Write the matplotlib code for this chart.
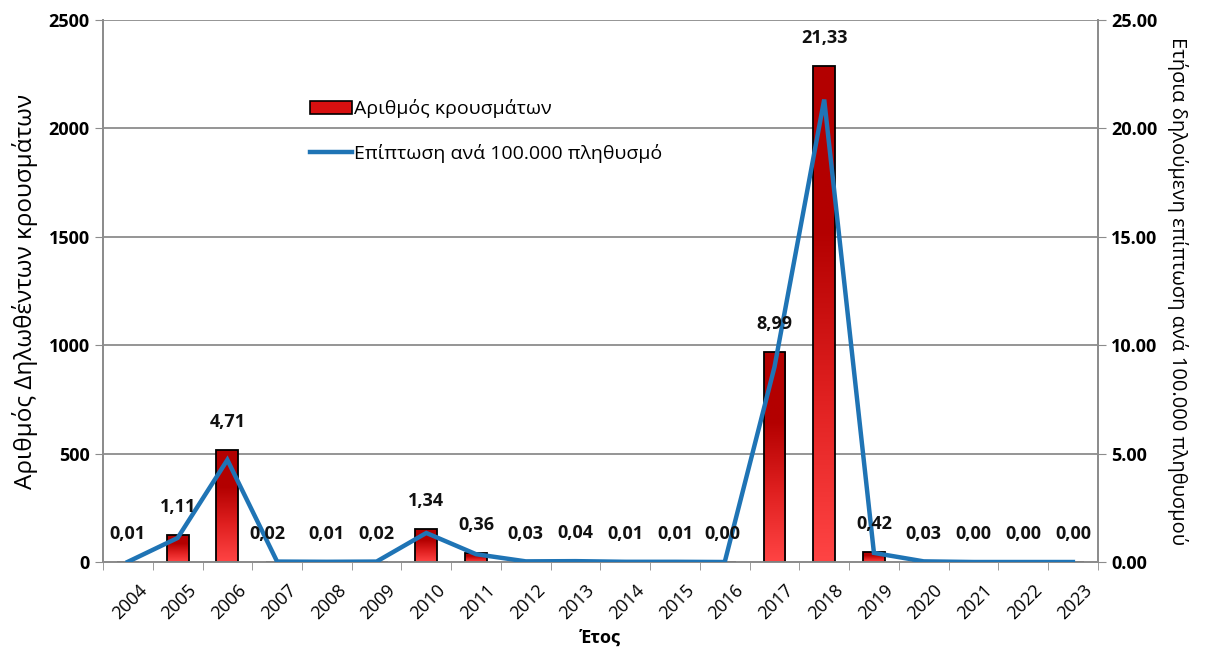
import numpy as np
import matplotlib.pyplot as plt
from matplotlib.colors import LinearSegmentedColormap
from matplotlib.lines import Line2D
from matplotlib.patches import Patch

plt.rcParams['font.family'] = ['Open Sans', 'DejaVu Sans']

# Δεδομένα
years = ['2004', '2005', '2006', '2007', '2008', '2009', '2010', '2011', '2012', '2013',
         '2014', '2015', '2016', '2017', '2018', '2019', '2020', '2021', '2022', '2023']
cases = [1, 125, 517, 2, 1, 2, 152, 41, 3, 4, 1, 1, 0, 969, 2288, 46, 3, 0, 0, 0]
incidence = [0.01, 1.11, 4.71, 0.02, 0.01, 0.02, 1.34, 0.36, 0.03, 0.04,
             0.01, 0.01, 0.00, 8.99, 21.33, 0.42, 0.03, 0.00, 0.00, 0.00]
label_x_shift = [0, 0, 0, -0.2, 0, 0, 0, 0, 0, 0, 0, 0, -0.05, 0, 0, 0, 0, 0, 0, 0]

grey = '#8c8c8c'
blue = '#1f74b5'
red_cmap = LinearSegmentedColormap.from_list('redgrad', ['#ff4444', '#e02020', '#b30000', '#b30000'])

fig = plt.figure(figsize=(12.05, 6.51), dpi=100)
ax = fig.add_axes([0.0855, 0.1367, 0.8255, 0.8326])
ax2 = ax.twinx()

x = np.arange(len(years))
bars = ax.bar(x, cases, width=0.44, color='none', edgecolor='black', linewidth=1.3, zorder=3)

# διαβάθμιση χρώματος στις μπάρες
grad = np.linspace(0, 1, 256).reshape(-1, 1)
for b in bars:
    if b.get_height() <= 0:
        continue
    x0, w, h = b.get_x(), b.get_width(), b.get_height()
    im = ax.imshow(grad, cmap=red_cmap, aspect='auto', origin='lower',
                   extent=[x0, x0 + w, 0, h], zorder=2)
    im.set_clip_path(b)

ax.set_xlim(-0.5, len(years) - 0.5)
ax.set_ylim(0, 2500)
ax.set_yticks(np.arange(0, 2501, 500))
ax.grid(axis='y', color=grey, linewidth=1.3, zorder=0)
ax.set_axisbelow(True)

ax2.plot(x, incidence, color=blue, linewidth=3.2, zorder=4, solid_joinstyle='miter')
ax2.set_ylim(0, 25)
ax2.set_yticks(np.arange(0, 25.1, 5))
ax2.set_yticklabels([f'{v:.2f}' for v in np.arange(0, 25.1, 5)])

# ετικέτες τιμών
for i, v in enumerate(incidence):
    top = max(cases[i] / 100.0, v)
    ax2.annotate(f'{v:.2f}'.replace('.', ','), (x[i] + label_x_shift[i], top),
                 xytext=(0, 20), textcoords='offset points', ha='center', va='center',
                 fontsize=13, fontweight='bold', color='#111111', zorder=5)

ax.set_xticks(x + 0.2)
ax.set_xticklabels(years, rotation=45, ha='right', rotation_mode='anchor', fontsize=13)
ax.set_xticks(np.arange(-0.5, len(years)), minor=True)
ax.tick_params(axis='x', which='major', length=0, pad=14)
ax.tick_params(axis='x', which='minor', length=6, color=grey, direction='out')
ax.tick_params(axis='y', length=6, color=grey, labelsize=13)
ax2.tick_params(axis='y', length=6, color=grey, labelsize=13)
for lab in ax.get_yticklabels() + ax2.get_yticklabels():
    lab.set_fontweight('bold')

for a in (ax, ax2):
    a.spines['top'].set_visible(False)
    for s in ('left', 'right', 'bottom'):
        a.spines[s].set_color(grey)
        a.spines[s].set_linewidth(1.3)

ax.set_ylabel('Αριθμός Δηλωθέντων κρουσμάτων', fontsize=17.5, labelpad=8)
ax2.set_ylabel('Ετήσια δηλούμενη επίπτωση ανά 100.000 πληθυσμού', fontsize=14.5,
               rotation=270, labelpad=22)
ax.set_xlabel('Έτος', fontsize=13, fontweight='bold', labelpad=4)

handles = [Patch(facecolor='#d81010', edgecolor='black', linewidth=1.2),
           Line2D([0], [0], color=blue, linewidth=3.2)]
ax2.legend(handles, ['Αριθμός κρουσμάτων', 'Επίπτωση ανά 100.000 πληθυσμό'],
           loc='center left', bbox_to_anchor=(0.19, 0.795), frameon=False,
           fontsize=14, handlelength=2.2, handletextpad=0.1, labelspacing=1.3)

fig.savefig('out.png', dpi=100)
